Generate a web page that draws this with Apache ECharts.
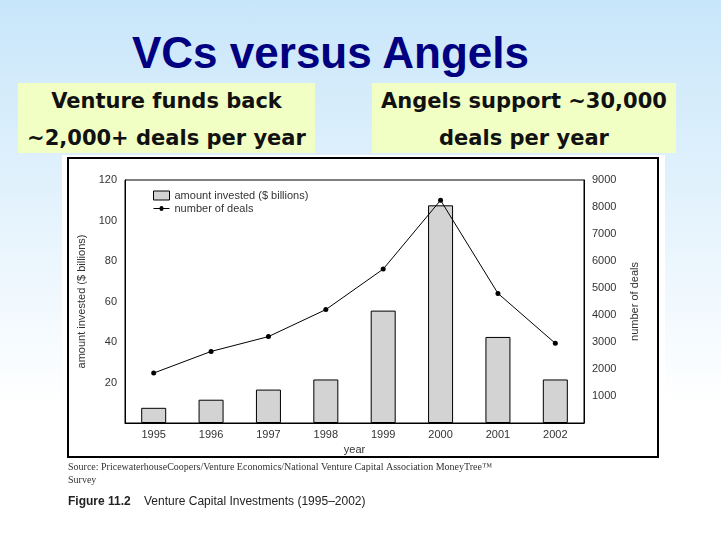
<!DOCTYPE html>
<html lang="en">
<head>
<meta charset="UTF-8">
<script src="https://cdn.jsdelivr.net/npm/echarts@6/dist/echarts.min.js"></script>
<style>
  body { margin:0; width:721px; height:541px; overflow:hidden;
         background:linear-gradient(#c8e6fa, #ffffff 75%); position:relative; font-family:"DejaVu Sans"; }
  #title { position:absolute; left:0; width:661px; top:28px; text-align:center;
           font:bold 44px "Liberation Sans"; color:#000080; }
  .box { position:absolute; background:#f2ffc4; color:#111; font:bold 21px "DejaVu Sans";
         text-align:center; line-height:37px; }
  #chart { position:absolute; left:62px; top:155px; width:603px; height:362px;
           background:#fff; }
</style>
</head>
<body>
<div id="title">VCs versus Angels</div>
<div class="box" style="left:18px;top:83px;width:297px;height:70px">Venture funds back<br>~2,000+ deals per year</div>
<div class="box" style="left:372px;top:83px;width:304px;height:70px">Angels support ~30,000<br>deals per year</div>
<div id="chart"></div>
<script>
    var years = ['1995', '1996', '1997', '1998', '1999', '2000', '2001', '2002'];
    var amount = [7.5, 11.5, 16.5, 21.5, 55.5, 107.5, 42.5, 21.5];
    var deals = [1850, 2650, 3200, 4200, 5700, 8250, 4800, 2950];

    var myChart = echarts.init(document.getElementById('chart'));
    var grey = '#333';
    myChart.setOption({
        animation: false,
        textStyle: { fontFamily: 'Liberation Sans' },
        graphic: [
            { type: 'rect', shape: { x: 6, y: 3, width: 590, height: 299 }, style: { fill: 'none', stroke: '#000', lineWidth: 2 } },
            { type: 'text', left: 6, top: 306, style: { text: 'Source: PricewaterhouseCoopers/Venture Economics/National Venture Capital Association MoneyTree\u2122\nSurvey', font: '10px "Liberation Serif"', fill: '#333', lineHeight: 13 } },
            { type: 'text', left: 6, top: 341, style: { text: '{b|Figure 11.2}    Venture Capital Investments (1995\u20132002)', font: '12px "Liberation Sans"', fill: '#222', rich: { b: { fontWeight: 'bold', fontSize: 12 } } } }
        ],
        legend: {
            left: 86, top: 30, orient: 'vertical', itemGap: 2, itemWidth: 16, itemHeight: 9,
            textStyle: { color: grey, fontSize: 11 },
            data: [
                { name: 'amount invested ($ billions)', icon: 'rect', itemStyle: { color: '#d3d3d3', borderColor: '#000', borderWidth: 1 } },
                { name: 'number of deals', icon: 'path://M0,4L6,4A2,2 0 1 1 10,4L16,4L16,5L10,5A2,2 0 1 1 6,5L0,5Z' }
            ]
        },
        grid: { left: 63, right: 81, top: 25, bottom: 94, show: true, borderColor: '#000', borderWidth: 1 },
        xAxis: {
            type: 'category', data: years, name: 'year', nameLocation: 'middle', nameGap: 20,
            nameTextStyle: { color: grey, fontSize: 11 },
            axisLine: { lineStyle: { color: '#000' } }, axisTick: { show: false },
            axisLabel: { color: grey, fontSize: 11, margin: 6 }
        },
        yAxis: [{
            type: 'value', min: 0, max: 120, interval: 20,
            name: 'amount invested ($ billions)', nameLocation: 'middle', nameGap: 30,
            nameTextStyle: { color: grey, fontSize: 11 },
            axisLine: { show: true, lineStyle: { color: '#000' } }, axisTick: { show: false }, splitLine: { show: false },
            axisLabel: { color: grey, fontSize: 11, formatter: function (v) { return v ? v : ''; } }
        }, {
            type: 'value', min: 0, max: 9000, interval: 1000,
            name: 'number of deals', nameLocation: 'middle', nameGap: 45, nameRotate: 90,
            nameTextStyle: { color: grey, fontSize: 11 },
            axisLine: { show: true, lineStyle: { color: '#000' } }, axisTick: { show: false }, splitLine: { show: false },
            axisLabel: { color: grey, fontSize: 11, formatter: function (v) { return v ? v : ''; } }
        }],
        series: [{
            name: 'amount invested ($ billions)', type: 'bar', data: amount, barWidth: 25,
            itemStyle: { color: '#d3d3d3', borderColor: '#000', borderWidth: 1 }
        }, {
            name: 'number of deals', type: 'line', yAxisIndex: 1, data: deals,
            symbol: 'circle', symbolSize: 5, z: 5,
            lineStyle: { color: '#000', width: 1 }, itemStyle: { color: '#000' }
        }]
    });
</script>
</body>
</html>
